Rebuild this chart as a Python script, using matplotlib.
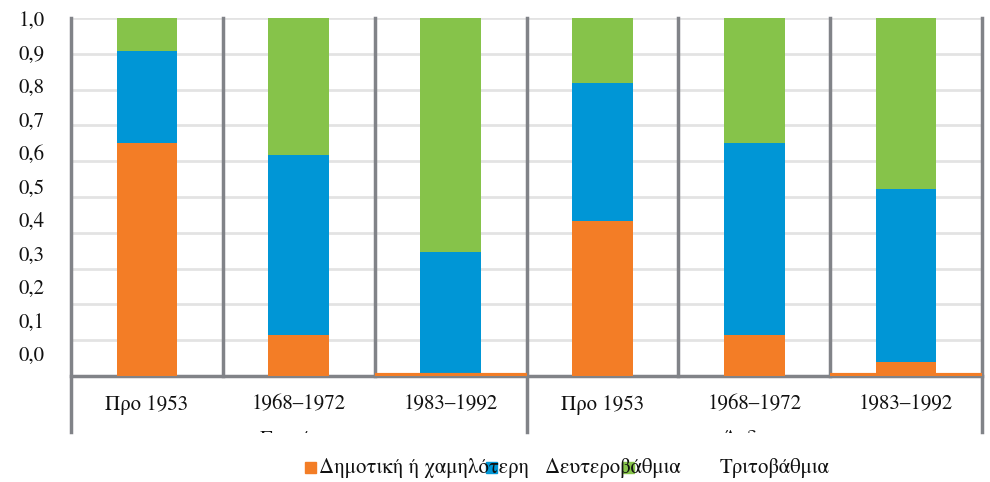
import numpy as np
import matplotlib
matplotlib.use("Agg")
import matplotlib.pyplot as plt
from matplotlib.patches import Rectangle
from matplotlib.transforms import Bbox, TransformedBbox, blended_transform_factory

# ---- data (shares, stacked to 1) ----
groups = ["Γυναίκες", "Άνδρες"]
periods = ["Προ 1953", "1968–1972", "1983–1992"]
series = ["Δημοτική ή χαμηλότερη", "Δευτεροβάθμια", "Τριτοβάθμια"]
primary = [0.651, 0.115, 0.0, 0.433, 0.115, 0.039]
secondary = [0.257, 0.502, 0.346, 0.385, 0.536, 0.483]
tertiary = [0.092, 0.383, 0.654, 0.182, 0.349, 0.478]
ytick_labels = ["0,0", "0,1", "0,2", "0,3", "0,4", "0,5", "0,6", "0,7", "0,8", "0,9", "1,0"]

COLORS = ["#F37D26", "#0096D6", "#86C34A"]
SEP = "#818388"
GRID = "#E3E3E3"
TXT = "#111111"
plt.rcParams["font.family"] = ["STIXGeneral", "DejaVu Serif"]

W, H = 990, 482
fig = plt.figure(figsize=(W / 100, H / 100), dpi=100)
ax = fig.add_axes([71 / W, (H - 376) / H, (982 - 71) / W, (376 - 18) / H])

labels = [p for g in groups for p in periods]
x = np.arange(len(labels)) + 0.5
bw = 0.4
stack = np.array([primary, secondary, tertiary])
bottom = np.zeros(len(labels))
for vals, c in zip(stack, COLORS):
    ax.bar(x, vals, bw, bottom=bottom, color=c, zorder=3, linewidth=0)
    bottom += vals

# zero-share segments show as a thin line across the slot
for xi, v in zip(x, primary):
    if v < 0.05:
        ax.hlines(0.004, xi - 0.5, xi + 0.5, color=COLORS[0], lw=3, zorder=4)

ax.set_xlim(0, len(labels))
ax.set_ylim(0, 1.0)

# gridlines on minor ticks, labels sit slightly offset like the source
ax.set_yticks(np.arange(1, 11) / 10, minor=True)
ax.set_yticks(0.0615 + 0.0936 * np.arange(11))
ax.set_yticklabels(ytick_labels, fontsize=15, color=TXT)
ax.yaxis.grid(True, which="minor", color=GRID, lw=2, zorder=0)
ax.tick_params(axis="y", which="both", length=0, pad=19)
ax.set_xticks([])

for s in ["top", "right", "left"]:
    ax.spines[s].set_visible(False)
ax.spines["bottom"].set_color(SEP)
ax.spines["bottom"].set_linewidth(2.5)
ax.spines["bottom"].set_zorder(2)

trans = blended_transform_factory(ax.transData, ax.transAxes)
for xs in [1, 2, 4, 5]:
    ax.plot([xs, xs], [0, 1], color=SEP, lw=2.5, transform=trans, zorder=2,
            clip_on=False)
for xs in [0, 3, 6]:
    ax.plot([xs, xs], [-0.156, 1], color=SEP, lw=2.5, transform=trans, zorder=2,
            clip_on=False)

for xi, lab in zip(x, labels):
    ax.text(xi, -0.08, lab, transform=trans, ha="center", va="center",
            fontsize=15, color=TXT)

# group labels, cut off by the plot area edge in the source
clip = TransformedBbox(Bbox([[0, (H - 433) / H], [1, 1]]), fig.transFigure)
for gi, g in enumerate(groups):
    t = ax.text(1.5 + 3 * gi, (376 - 430) / 358, g, transform=trans,
                ha="center", va="top", fontsize=15, color=TXT, clip_on=True)
    t.set_clip_box(clip)

# legend laid out as in the source
marker_x = [305, 486, 623]
text_x = [319, 545, 720]
for mx, tx, c, s in zip(marker_x, text_x, COLORS, series):
    fig.patches.append(Rectangle((mx / W, (H - 473) / H), 11 / W, 11 / H,
                                 transform=fig.transFigure, color=c, zorder=1))
    fig.text(tx / W, (H - 468) / H, s, ha="left", va="center", fontsize=15,
             color=TXT, zorder=2)

fig.savefig("out.png", dpi=100)
